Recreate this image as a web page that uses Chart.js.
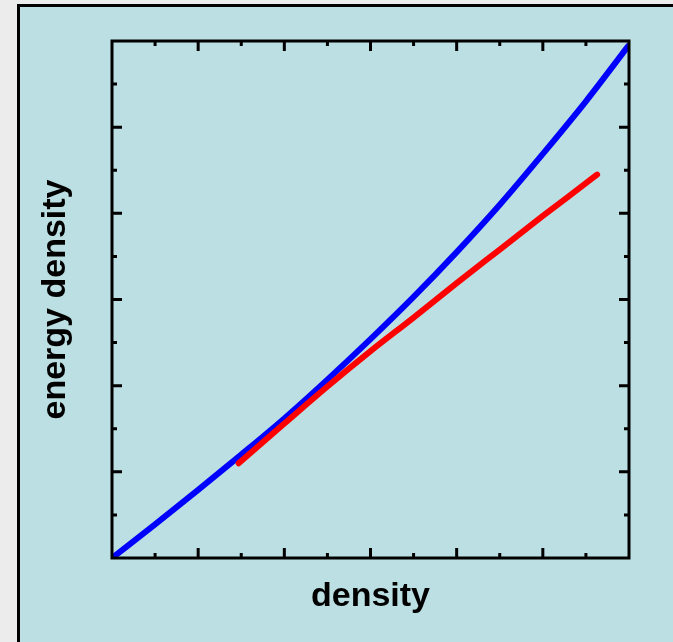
<!DOCTYPE html>
<html>
<head>
<meta charset="utf-8">
<script src="https://cdn.jsdelivr.net/npm/chart.js@4.4.1/dist/chart.umd.min.js"></script>
<style>
  html, body { margin:0; padding:0; width:673px; height:642px; overflow:hidden; background:#ececec; }
  #panel { position:absolute; left:17px; top:4px; width:700px; height:700px; background:#bbdfe3; border-left:3px solid #000; border-top:3px solid #000; }
  #wrap { position:absolute; left:0; top:0; width:673px; height:642px; }
</style>
</head>
<body>
<div id="panel"></div>
<div id="wrap"><canvas id="chart" width="673" height="642"></canvas></div>
<script>
// values, in tick units (axes run 0..6, no labels shown)
const blueX = [0, 0.5, 1, 1.5, 2, 2.5, 3, 3.5, 4, 4.5, 5, 5.5, 5.99];
const blueY = [0, 0.39, 0.79, 1.20, 1.62, 2.07, 2.54, 3.03, 3.55, 4.10, 4.69, 5.30, 5.94];
const redX  = [1.47, 2, 2.5, 3, 3.5, 4, 4.5, 5, 5.5, 5.63];
const redY  = [1.10, 1.56, 1.99, 2.40, 2.79, 3.19, 3.58, 3.97, 4.35, 4.45];
const xTitle = "density";
const yTitle = "energy density";
const axisMax = 6;

function pts(xs, ys){ return xs.map((x,i)=>({x, y: ys[i]})); }

// frame + inward ticks on all four sides
const frameTicks = {
  id: "frameTicks",
  afterDatasetsDraw(chart){
    const {ctx, chartArea:a, scales:{x, y}} = chart;
    ctx.save();
    ctx.strokeStyle = "#000";
    ctx.lineWidth = 3;
    ctx.lineCap = "butt";
    for (let v = 0.5; v < axisMax; v += 0.5){
      const len = Number.isInteger(v) ? 10 : 5;
      const px = x.getPixelForValue(v);
      const py = y.getPixelForValue(v);
      ctx.beginPath();
      ctx.moveTo(px, a.bottom); ctx.lineTo(px, a.bottom - len);
      ctx.moveTo(px, a.top); ctx.lineTo(px, a.top + len);
      ctx.moveTo(a.left, py); ctx.lineTo(a.left + len, py);
      ctx.moveTo(a.right, py); ctx.lineTo(a.right - len, py);
      ctx.stroke();
    }
    ctx.strokeRect(a.left, a.top, a.right - a.left, a.bottom - a.top);
    ctx.restore();
  }
};

const titleFont = { family: "'Liberation Sans', Arial, sans-serif", size: 34, weight: "bold", lineHeight: 1 };

new Chart(document.getElementById("chart").getContext("2d"), {
  type: "scatter",
  data: {
    datasets: [
      { data: pts(redX, redY), showLine: true, borderColor: "#ff0000", borderWidth: 6, pointRadius: 0, cubicInterpolationMode: "monotone", order: 1, borderCapStyle: "round" },
      { data: pts(blueX, blueY), showLine: true, borderColor: "#0000ff", borderWidth: 6, pointRadius: 0, cubicInterpolationMode: "monotone", order: 2, borderCapStyle: "round" },
    ]
  },
  options: {
    responsive: false,
    animation: false,
    layout: { padding: { top: 41, right: 44, left: 0, bottom: 0 } },
    plugins: { legend: { display: false }, tooltip: { enabled: false } },
    scales: {
      x: {
        type: "linear", min: 0, max: axisMax,
        ticks: { display: false }, grid: { display: false }, border: { display: false },
        title: { display: true, text: xTitle, color: "#000", font: titleFont, padding: { top: 0, bottom: 28 } },
        afterFit(s){ s.height = 84; }
      },
      y: {
        type: "linear", min: 0, max: axisMax,
        ticks: { display: false }, grid: { display: false }, border: { display: false },
        title: { display: true, text: yTitle, color: "#000", font: titleFont, padding: { top: 39, bottom: 0 } },
        afterFit(s){ s.width = 112; }
      }
    }
  },
  plugins: [frameTicks]
});
</script>
</body>
</html>
